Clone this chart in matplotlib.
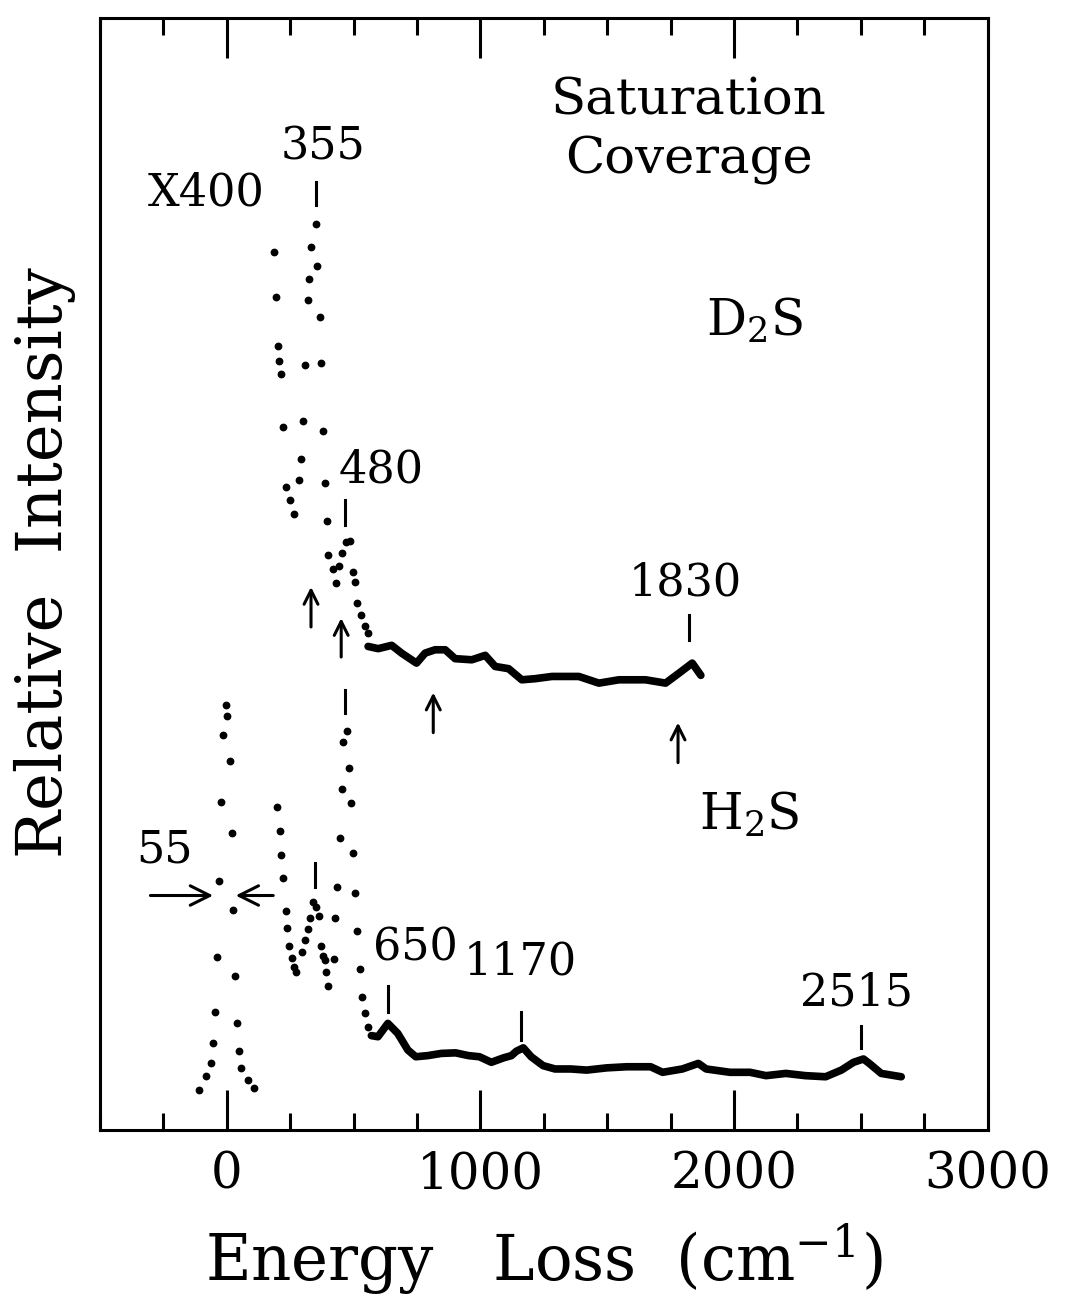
import numpy as np
import matplotlib.pyplot as plt
from matplotlib.ticker import MultipleLocator

plt.rcParams['font.family'] = ['DejaVu Serif']
plt.rcParams['mathtext.fontset'] = 'dejavuserif'

# elastic peak of H2S (x1), dotted
elastic_x = [-108, -82, -62, -54, -47, -40, -32, -23, -16, -3, 0, 11, 20, 26, 33, 41, 50, 57, 83, 109]
elastic_y = [3.6, 4.9, 6.0, 7.8, 10.6, 15.6, 22.4, 29.5, 35.5, 38.2, 37.2, 33.2, 26.7, 19.8, 13.9,
             9.6, 7.1, 5.6, 4.5, 3.8]

# H2S x400, dotted part
h2s_dot_x = [199, 208, 215, 221, 232, 238, 245, 257, 265, 273, 297, 308, 320, 328, 340, 352, 363,
             370, 378, 386, 393, 399, 423, 428, 435, 446, 456, 459, 472, 482, 491, 498, 507, 514,
             525, 535, 544, 557]
h2s_dot_y = [29.1, 26.9, 24.7, 22.7, 19.7, 18.2, 16.6, 15.5, 14.7, 14.2, 16.0, 17.1, 18.1, 19.1,
             20.5, 20.1, 19.3, 16.6, 15.7, 15.3, 14.2, 13.0, 15.4, 19.1, 21.9, 26.3, 30.7, 34.9,
             35.9, 32.6, 29.4, 24.9, 21.3, 17.9, 14.5, 12.0, 10.5, 9.3]

# H2S x400, solid part
h2s_x = [570, 596, 635, 674, 714, 745, 792, 846, 902, 953, 996, 1043, 1091, 1122, 1142, 1169,
         1200, 1247, 1294, 1356, 1419, 1498, 1577, 1671, 1718, 1796, 1859, 1890, 1984, 2063, 2126,
         2204, 2281, 2361, 2423, 2471, 2510, 2533, 2580, 2659]
h2s_y = [8.5, 8.4, 9.6, 8.7, 7.2, 6.6, 6.7, 6.9, 6.95, 6.7, 6.6, 6.1, 6.5, 6.7, 7.1, 7.4, 6.6, 5.8,
         5.5, 5.5, 5.4, 5.6, 5.7, 5.7, 5.2, 5.5, 6.0, 5.5, 5.2, 5.2, 4.9, 5.1, 4.9, 4.8, 5.4, 6.1,
         6.4, 6.0, 5.1, 4.8]

# D2S x400, dotted part
d2s_dot_x = [185, 193, 202, 206, 212, 221, 233, 249, 265, 285, 294, 300, 307, 320, 323, 331, 353,
             357, 366, 370, 380, 389, 397, 399, 419, 432, 443, 455, 470, 486, 498, 507, 515, 529,
             544, 557]
d2s_dot_y = [79.0, 74.9, 70.5, 69.2, 68.0, 63.2, 57.8, 56.7, 55.4, 58.5, 60.4, 63.8, 68.8, 74.7,
             76.5, 79.4, 81.5, 77.7, 73.1, 69.0, 62.9, 58.2, 54.8, 51.7, 50.5, 49.2, 50.7, 51.9,
             52.9, 53.0, 50.2, 49.3, 47.4, 46.3, 45.3, 44.7]

# D2S x400, solid part
d2s_x = [557, 597, 650, 689, 748, 782, 821, 861, 900, 966, 1019, 1058, 1111, 1163, 1216, 1282,
         1388, 1467, 1546, 1651, 1730, 1783, 1835, 1869]
d2s_y = [43.5, 43.3, 43.6, 42.9, 42.0, 42.9, 43.2, 43.2, 42.4, 42.3, 42.7, 41.7, 41.5, 40.5, 40.6,
         40.8, 40.8, 40.2, 40.5, 40.5, 40.2, 41.1, 42.0, 40.9]

# peak labels: (text, label x, label y, tick x, tick y0, tick y1)
peak_labels = [
    ('355', 379, 88.4, 352, 83.2, 85.3),
    ('480', 609, 59.4, 466, 54.4, 56.7),
    ('1830', 1807, 49.2, 1822, 44.1, 46.3),
    ('650', 743, 16.4, 636, 10.6, 13.0),
    ('1170', 1158, 15.1, 1158, 8.1, 10.6),
    ('2515', 2482, 12.3, 2502, 7.4, 9.4),
]
# extra peak ticks without their own label (H2S 480, H2S 355)
extra_ticks = [(466, 37.5, 39.6), (348, 21.9, 24.0)]
# up arrows: (x, tail y, head y)
up_arrows = [(332, 45.0, 49.1), (451, 42.3, 46.3), (814, 35.5, 39.6), (1779, 32.8, 36.9)]

fig = plt.figure(figsize=(10.67, 12.99), dpi=100)
ax = fig.add_axes([0.0937, 0.130, 0.832, 0.856])

dot = dict(ls='none', marker='o', ms=4.6, color='black')
ax.plot(elastic_x, elastic_y, **dot)
ax.plot(h2s_dot_x, h2s_dot_y, **dot)
ax.plot(d2s_dot_x, d2s_dot_y, **dot)
ax.plot(h2s_x, h2s_y, color='black', lw=5.5, solid_joinstyle='round', solid_capstyle='round')
ax.plot(d2s_x, d2s_y, color='black', lw=5.5, solid_joinstyle='round', solid_capstyle='round')

fs = 32
for txt, lx, ly, tx, y0, y1 in peak_labels:
    ax.text(lx, ly, txt, ha='center', va='center', fontsize=fs)
    ax.plot([tx, tx], [y0, y1], color='black', lw=2.2)
for tx, y0, y1 in extra_ticks:
    ax.plot([tx, tx], [y0, y1], color='black', lw=2.2)
for x, y0, y1 in up_arrows:
    ax.annotate('', xy=(x, y1), xytext=(x, y0),
                arrowprops=dict(arrowstyle='->', lw=2.2, color='black', mutation_scale=25))

ax.text(-83, 84.3, 'X400', ha='center', va='center', fontsize=fs)
ax.text(1822, 89.9, 'Saturation\nCoverage', ha='center', va='center', fontsize=37,
        linespacing=1.25)
ax.text(2079, 72.7, r'D$_2$S', ha='center', va='center', fontsize=36)
ax.text(2060, 28.3, r'H$_2$S', ha='center', va='center', fontsize=36)

# FWHM marker
ax.text(-245, 25.2, '55', ha='center', va='center', fontsize=fs)
ax.annotate('', xy=(-43, 21.1), xytext=(-312, 21.1),
            arrowprops=dict(arrowstyle='->', lw=2.2, color='black', mutation_scale=35))
ax.annotate('', xy=(24, 21.1), xytext=(194, 21.1),
            arrowprops=dict(arrowstyle='->', lw=2.2, color='black', mutation_scale=35))

ax.set_xlim(-500, 3000)
ax.set_ylim(0, 100)
ax.xaxis.set_major_locator(MultipleLocator(1000))
ax.xaxis.set_minor_locator(MultipleLocator(250))
ax.tick_params(axis='x', which='both', direction='in', top=True, bottom=True, width=2.2)
ax.tick_params(axis='x', which='major', length=29, labelsize=36, pad=14)
ax.tick_params(axis='x', which='minor', length=12)
ax.set_yticks([])
for s in ax.spines.values():
    s.set_linewidth(2.2)

ax.set_xlabel(r'Energy   Loss  (cm$^{-1}$)', fontsize=45, labelpad=16)
ax.set_ylabel('Relative  Intensity', fontsize=46)
ax.yaxis.set_label_coords(-0.027, 0.51)

fig.savefig('out.png', dpi=100)
